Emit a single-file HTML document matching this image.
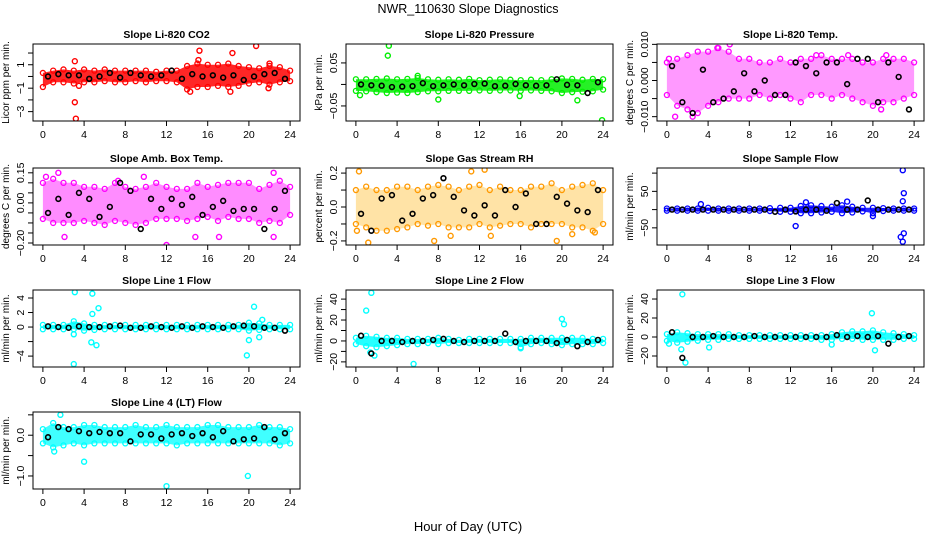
<!DOCTYPE html>
<html><head><meta charset="utf-8"><style>
html,body{margin:0;padding:0;background:#fff;}
svg{display:block;font-family:"Liberation Sans",Arial,sans-serif;}
</style></head><body>
<svg id="chart" width="936" height="540" viewBox="0 0 936 540">
<rect width="936" height="540" fill="#fff"/>
<text x="468" y="13" text-anchor="middle" font-size="12.5">NWR_110630  Slope Diagnostics</text>
<text x="468" y="531" text-anchor="middle" font-size="13">Hour of Day (UTC)</text>
</svg>
<script>
// ---- shared categories ----
const hours = [0,1,2,3,4,5,6,7,8,9,10,11,12,13,14,15,16,17,18,19,20,21,22,23,24];
const blackHours = [0.5,1.5,2.5,3.5,4.5,5.5,6.5,7.5,8.5,9.5,10.5,11.5,12.5,13.5,14.5,15.5,16.5,17.5,18.5,19.5,20.5,21.5,22.5,23.5];
const xTicks = [0,4,8,12,16,20,24];

// ---- P1 Li-820 CO2 ----
const p1Hi = [0.3,0.5,0.6,0.5,0.6,0.5,0.6,0.5,0.5,0.5,0.5,0.4,0.5,0.5,0.9,1.1,1.0,1.0,1.1,0.9,0.8,0.7,0.9,0.8,0.5];
const p1Lo = [-0.9,-0.5,-0.5,-0.6,-0.5,-0.5,-0.4,-0.5,-0.5,-0.4,-0.5,-0.4,-0.4,-0.5,-1.1,-0.9,-0.9,-0.8,-0.9,-0.8,-0.6,-0.5,-0.7,-0.5,-0.4];
const p1Black = [0.0,0.2,0.1,0.1,-0.2,0.0,0.3,-0.1,0.3,0.1,0.0,0.1,0.5,-0.2,0.2,0.0,0.1,-0.1,0.1,-0.3,0.0,0.2,0.3,-0.2];
const p1OutX = [3.1,3.1,3.2,3.5,14.3,15.2,15.1,18.2,18.4,20.7,21.9,22.0];
const p1OutY = [1.3,-2.2,-3.6,-0.8,-1.3,2.2,1.4,-1.3,2.0,2.6,-1.0,1.1];
const p1Ticks = [2,1,0,-1,-2,-3];
const p1Labels = ["","1","","-1","","-3"];

// ---- P2 Li-820 Pressure ----
const p2Hi = [0.012,0.012,0.013,0.014,0.012,0.013,0.015,0.012,0.011,0.012,0.011,0.013,0.010,0.011,0.012,0.011,0.010,0.011,0.010,0.012,0.014,0.013,0.011,0.013,0.012];
const p2Lo = [-0.015,-0.016,-0.018,-0.020,-0.019,-0.020,-0.018,-0.016,-0.016,-0.015,-0.015,-0.015,-0.014,-0.015,-0.014,-0.014,-0.015,-0.014,-0.015,-0.016,-0.020,-0.018,-0.017,-0.016,-0.012];
const p2Black = [0.000,-0.002,-0.003,-0.006,-0.005,-0.004,0.003,-0.004,-0.002,0.000,-0.002,0.001,0.002,-0.004,-0.003,0.001,-0.002,-0.003,-0.002,0.012,-0.001,-0.002,-0.020,0.005];
const p2OutX = [3.2,3.1,0.4,8.0,15.9,21.5,23.9,6.0];
const p2OutY = [0.09,0.067,-0.025,-0.035,-0.027,-0.037,-0.083,0.02];
const p2Ticks = [0.05,0,-0.05];
const p2Labels = ["0.05","","-0.05"];

// ---- P3 Li-820 Temp ----
const p3Hi = [0.005,0.006,0.007,0.008,0.008,0.009,0.008,0.006,0.006,0.005,0.005,0.006,0.005,0.006,0.006,0.007,0.006,0.006,0.006,0.005,0.005,0.006,0.006,0.006,0.005];
const p3Lo = [-0.004,-0.007,-0.008,-0.009,-0.007,-0.006,-0.005,-0.005,-0.005,-0.004,-0.005,-0.004,-0.005,-0.006,-0.004,-0.004,-0.005,-0.004,-0.005,-0.006,-0.007,-0.006,-0.006,-0.005,-0.004];
const p3Black = [0.004,-0.006,-0.009,0.003,-0.006,-0.005,-0.003,0.002,-0.003,0.000,-0.004,-0.004,0.005,0.004,0.002,0.005,0.005,-0.001,0.006,0.006,-0.006,0.005,0.001,-0.008];
const p3OutX = [0.2,0.8,2.5,4.9,6.1,14.5,17.6,21.3,20.8];
const p3OutY = [0.006,-0.010,-0.010,0.009,0.010,0.007,0.007,0.007,-0.008];
const p3Ticks = [0.010,0.005,0,-0.005,-0.010];
const p3Labels = ["0.010","","0.000","","-0.010"];

// ---- P4 Amb Box Temp ----
const p4Hi = [0.10,0.12,0.10,0.10,0.08,0.08,0.07,0.10,0.08,0.07,0.08,0.10,0.08,0.07,0.07,0.10,0.08,0.09,0.10,0.10,0.10,0.07,0.09,0.11,0.08];
const p4Lo = [-0.08,-0.10,-0.10,-0.10,-0.09,-0.10,-0.11,-0.09,-0.10,-0.11,-0.10,-0.08,-0.08,-0.08,-0.09,-0.08,-0.07,-0.09,-0.07,-0.08,-0.08,-0.10,-0.09,-0.10,-0.06];
const p4Black = [-0.05,0.02,-0.06,0.05,0.02,-0.07,-0.02,0.10,0.06,-0.13,0.02,-0.03,0.02,-0.01,0.03,-0.06,-0.02,0.01,-0.04,-0.03,-0.03,-0.13,-0.03,0.06];
const p4OutX = [0.3,1.5,2.1,7.3,12.0,14.8,17.1,22.4,22.4,9.8];
const p4OutY = [0.13,0.15,-0.17,0.11,-0.21,-0.17,-0.17,-0.17,0.15,0.13];
const p4Ticks = [0.15,0.10,0.05,0,-0.05,-0.10,-0.15,-0.20];
const p4Labels = ["0.15","","","0.00","","","","-0.20"];

// ---- P5 Gas Stream RH ----
const p5Hi = [0.10,0.12,0.10,0.10,0.12,0.12,0.10,0.12,0.13,0.12,0.10,0.12,0.13,0.10,0.12,0.10,0.10,0.12,0.12,0.14,0.10,0.12,0.13,0.14,0.10];
const p5Lo = [-0.10,-0.12,-0.14,-0.14,-0.13,-0.12,-0.10,-0.11,-0.10,-0.12,-0.12,-0.12,-0.10,-0.12,-0.11,-0.10,-0.10,-0.12,-0.10,-0.10,-0.10,-0.12,-0.12,-0.14,-0.10];
const p5Black = [-0.04,-0.14,0.05,0.07,-0.08,-0.04,0.05,0.07,0.17,0.06,-0.02,-0.05,0.01,-0.05,0.10,0.00,0.08,-0.10,-0.10,0.06,0.02,-0.02,-0.03,0.10];
const p5OutX = [0.3,0.1,1.2,7.6,9.2,11.2,12.5,13.1,19.5,21.0,23.2];
const p5OutY = [0.21,-0.14,-0.21,-0.20,-0.17,0.21,0.22,-0.17,-0.20,-0.16,-0.15];
const p5Ticks = [0.2,0.1,0,-0.1,-0.2];
const p5Labels = ["0.2","","0.0","","-0.2"];

// ---- P6 Sample Flow ----
const p6Hi = [3,3,3,3,5,3,3,3,3,3,4,5,5,10,12,10,8,12,8,5,5,4,3,3,3];
const p6Lo = [-3,-3,-3,-3,-3,-3,-3,-3,-3,-3,-4,-6,-6,-10,-10,-8,-6,-10,-8,-5,-10,-4,-3,-3,-3];
const p6Black = [0,0,0,0,0,0,0,0,0,0,-6,0,-5,0,0,-3,18,0,0,25,0,0,0,0];
const p6OutX = [3.3,22.9,23.0,22.9,23.0,22.9,13.5,17.5,20.0,12.5,22.7];
const p6OutY = [15,108,45,23,-65,-88,20,22,-18,-45,-75];
const p6Ticks = [100,50,0,-50];
const p6Labels = ["","50","","-50"];

// ---- P7 Line 1 Flow ----
const p7Hi = [0.3,0.3,0.3,0.8,0.5,0.3,0.3,0.3,0.3,0.3,0.3,0.3,0.3,0.3,0.3,0.3,0.3,0.3,0.3,0.3,0.6,0.5,0.3,0.3,0.3];
const p7Lo = [-0.3,-0.3,-0.3,-0.3,-0.5,-0.4,-0.3,-0.3,-0.3,-0.3,-0.3,-0.3,-0.3,-0.3,-0.3,-0.3,-0.3,-0.3,-0.3,-0.3,-0.5,-0.4,-0.3,-0.3,-0.3];
const p7Black = [0.1,0.0,-0.1,0.1,0.0,0.0,0.1,0.2,-0.1,-0.1,0.1,0.0,-0.1,0.1,-0.1,0.1,0.0,-0.1,0.1,0.2,0.1,-0.1,-0.1,-0.5];
const p7OutX = [3.1,4.8,3.0,3.0,4.7,5.2,5.4,4.8,20.5,20.0,19.8,21.0,21.3];
const p7OutY = [4.8,4.6,-5.1,-1.0,-2.1,-2.5,2.6,1.8,2.8,-1.8,-3.9,-1.4,1.0];
const p7Ticks = [4,2,0,-2,-4];
const p7Labels = ["4","2","0","","-4"];

// ---- P8 Line 2 Flow ----
const p8Hi = [3,5,4,3,3,2,2,2,3,2,1,2,2,2,2,2,2,3,3,3,3,3,3,2,2];
const p8Lo = [-3,-5,-6,-5,-4,-3,-3,-2,-3,-2,-2,-2,-2,-2,-2,-2,-6,-3,-2,-3,-4,-3,-3,-3,-2];
const p8Black = [5,-12,0,0,-1,0,0,1,2,0,-1,0,0,0,7,-1,0,0,0,-2,1,-5,-1,1];
const p8OutX = [1.5,1.0,1.8,1.4,5.6,20.0,20.2,16.0];
const p8OutY = [46,29,-14,-11,-22,21,16,-7];
const p8Ticks = [40,30,20,10,0,-10,-20];
const p8Labels = ["40","","20","","0","","-20"];

// ---- P9 Line 3 Flow ----
const p9Hi = [3,5,4,3,3,3,3,2,2,2,2,2,2,2,2,2,3,5,6,6,7,5,4,3,2];
const p9Lo = [-4,-6,-5,-4,-3,-3,-2,-2,-2,-2,-2,-2,-2,-2,-2,-3,-3,-2,-2,-3,-3,-3,-3,-2,-2];
const p9Black = [5,-22,0,0,1,0,0,0,1,0,0,0,0,0,0,0,2,0,1,0,1,-7,0,1];
const p9OutX = [1.5,1.8,1.4,4.1,0.2,19.9,20.2,16.0];
const p9OutY = [45,-27,-13,-11,-7,25,-14,-8];
const p9Ticks = [40,20,0,-20];
const p9Labels = ["40","20","0","-20"];

// ---- P10 Line 4 (LT) Flow ----
const p10Hi = [0.15,0.3,0.2,0.2,0.25,0.25,0.2,0.2,0.2,0.25,0.2,0.2,0.25,0.2,0.2,0.2,0.25,0.25,0.2,0.2,0.2,0.25,0.2,0.2,0.15];
const p10Lo = [-0.2,-0.3,-0.25,-0.2,-0.25,-0.2,-0.2,-0.2,-0.2,-0.2,-0.2,-0.2,-0.2,-0.25,-0.2,-0.2,-0.2,-0.2,-0.2,-0.2,-0.2,-0.2,-0.2,-0.25,-0.2];
const p10Black = [-0.05,0.2,0.15,0.1,0.05,0.08,0.05,0.05,-0.15,0.02,0.02,-0.08,0.02,0.05,-0.02,0.05,-0.05,0.1,-0.15,-0.1,-0.08,0.2,-0.1,0.05];
const p10OutX = [4.0,12.0,19.9,1.7,1.1];
const p10OutY = [-0.65,-1.25,-1.0,0.5,-0.4];
const p10Ticks = [0.5,0,-0.5,-1.0];
const p10Labels = ["","0.0","","-1.0"];

const panels = [
 {id:'co2', title:'Slope Li-820 CO2', yt:'Licor ppm per min.', col:0,row:0, ymin:-3.8, ymax:2.77, color:'#ff0000', fill:'#ff0000', op:0.85, hi:p1Hi, lo:p1Lo, blk:p1Black, ox:p1OutX, oy:p1OutY, ticks:p1Ticks, labels:p1Labels},
 {id:'pressure', title:'Slope Li-820 Pressure', yt:'kPa per min.', col:1,row:0, ymin:-0.085, ymax:0.094, color:'#00ee00', fill:'#00ee00', op:0.85, hi:p2Hi, lo:p2Lo, blk:p2Black, ox:p2OutX, oy:p2OutY, ticks:p2Ticks, labels:p2Labels},
 {id:'li820-temp', title:'Slope Li-820 Temp.', yt:'degrees C per min.', col:2,row:0, ymin:-0.0112, ymax:0.0101, color:'#ff00ff', fill:'#ff00ff', op:0.4, hi:p3Hi, lo:p3Lo, blk:p3Black, ox:p3OutX, oy:p3OutY, ticks:p3Ticks, labels:p3Labels},
 {id:'amb-box-temp', title:'Slope Amb. Box Temp.', yt:'degrees C per min.', col:0,row:1, ymin:-0.21, ymax:0.174, color:'#ff00ff', fill:'#ff00ff', op:0.45, hi:p4Hi, lo:p4Lo, blk:p4Black, ox:p4OutX, oy:p4OutY, ticks:p4Ticks, labels:p4Labels},
 {id:'gas-rh', title:'Slope Gas Stream RH', yt:'percent per min.', col:1,row:1, ymin:-0.224, ymax:0.23, color:'#ff9900', fill:'#ffb000', op:0.35, hi:p5Hi, lo:p5Lo, blk:p5Black, ox:p5OutX, oy:p5OutY, ticks:p5Ticks, labels:p5Labels},
 {id:'sample-flow', title:'Slope Sample Flow', yt:'ml/min per min.', col:2,row:1, ymin:-97, ymax:114, color:'#0000ff', fill:'#0000ff', op:0.85, hi:p6Hi, lo:p6Lo, blk:p6Black, ox:p6OutX, oy:p6OutY, ticks:p6Ticks, labels:p6Labels},
 {id:'line1-flow', title:'Slope Line 1 Flow', yt:'ml/min per min.', col:0,row:2, ymin:-5.5, ymax:5.1, color:'#00ffff', fill:'#00ffff', op:0.85, hi:p7Hi, lo:p7Lo, blk:p7Black, ox:p7OutX, oy:p7OutY, ticks:p7Ticks, labels:p7Labels},
 {id:'line2-flow', title:'Slope Line 2 Flow', yt:'ml/min per min.', col:1,row:2, ymin:-24.9, ymax:48.7, color:'#00ffff', fill:'#00ffff', op:0.85, hi:p8Hi, lo:p8Lo, blk:p8Black, ox:p8OutX, oy:p8OutY, ticks:p8Ticks, labels:p8Labels},
 {id:'line3-flow', title:'Slope Line 3 Flow', yt:'ml/min per min.', col:2,row:2, ymin:-31.6, ymax:49.5, color:'#00ffff', fill:'#00ffff', op:0.85, hi:p9Hi, lo:p9Lo, blk:p9Black, ox:p9OutX, oy:p9OutY, ticks:p9Ticks, labels:p9Labels},
 {id:'line4-flow', title:'Slope Line 4 (LT) Flow', yt:'ml/min per min.', col:0,row:3, ymin:-1.32, ymax:0.57, color:'#00ffff', fill:'#00ffff', op:0.75, hi:p10Hi, lo:p10Lo, blk:p10Black, ox:p10OutX, oy:p10OutY, ticks:p10Ticks, labels:p10Labels}
];

const colLeft = [33, 346, 657];
const rowTop = [44, 168, 290, 412];
const BW = 267, BH = 77;
const NS = 'http://www.w3.org/2000/svg';
const svg = document.getElementById('chart');
function mk(tag, attrs, parent){ const e=document.createElementNS(NS,tag); for(const k in attrs) e.setAttribute(k,attrs[k]); parent.appendChild(e); return e; }

panels.forEach(p=>{
  const L = colLeft[p.col], T = rowTop[p.row];
  const xs = h => L + (h + 0.96) / 25.92 * BW;
  const ys = v => T + (p.ymax - v) / (p.ymax - p.ymin) * BH;
  const g = mk('g', {}, svg);
  
  

  const t = mk('text', {x: L + BW/2, y: T - 6, 'text-anchor':'middle', 'font-size':'10.5', 'font-weight':'bold'}, g);
  t.textContent = p.title;
  
  

  const cp = mk('clipPath', {id:'clip-' + p.id}, g);
  mk('rect', {x:L, y:T, width:BW, height:BH}, cp);
  const plot = mk('g', {'clip-path':'url(#clip-' + p.id + ')'}, g);
  
  

  let pts = hours.map((h,i)=>xs(h).toFixed(1)+','+ys(p.hi[i]).toFixed(1));
  pts = pts.concat(hours.slice().reverse().map((h,j)=>{const i=hours.length-1-j; return xs(h).toFixed(1)+','+ys(p.lo[i]).toFixed(1);}));
  const band = mk('polygon', {points: pts.join(' '), fill: p.fill, 'fill-opacity': p.op, stroke:'none'}, plot);
  
  

  hours.forEach((h,i)=>{
    [p.hi[i], p.lo[i]].forEach(v=>{
      const c = mk('circle', {cx: xs(h), cy: ys(v), r: 2.5, fill:'none', stroke: p.color, 'stroke-width': 1.3}, plot);
      
      
    });
  });
  p.ox.forEach((x,i)=>{
    const c = mk('circle', {cx: xs(x), cy: ys(p.oy[i]), r: 2.5, fill:'none', stroke: p.color, 'stroke-width': 1.4}, plot);
    
    
  });
  blackHours.forEach((h,i)=>{
    const c = mk('circle', {cx: xs(h), cy: ys(p.blk[i]), r: 2.4, fill:'none', stroke:'#000', 'stroke-width': 1.6}, plot);
    
    
  });

  const box = mk('rect', {x:L, y:T, width:BW, height:BH, fill:'none', stroke:'#000', 'stroke-width':1}, g);
  
  

  xTicks.forEach(h=>{
    const tk = mk('line', {x1: xs(h), x2: xs(h), y1: T+BH, y2: T+BH+5, stroke:'#000'}, g);
    
    
    const tl = mk('text', {x: xs(h), y: T+BH+17, 'text-anchor':'middle', 'font-size':'10.5'}, g);
    tl.textContent = h;
    
    
  });
  p.ticks.forEach((v,i)=>{
    const y = ys(v);
    const tk = mk('line', {x1: L-5, x2: L, y1: y, y2: y, stroke:'#000'}, g);
    
    
    if (p.labels[i]) {
      const tl = mk('text', {x: L-9, y: y, 'text-anchor':'middle', 'font-size':'10.5', transform:'rotate(-90 ' + (L-9) + ' ' + y + ')'}, g);
      tl.textContent = p.labels[i].replace('-', '\u2212');
      
      
    }
  });
  const yt = mk('text', {x: L-24, y: T+BH/2, 'text-anchor':'middle', 'font-size':'10', transform:'rotate(-90 ' + (L-24) + ' ' + (T+BH/2) + ')'}, g);
  yt.textContent = p.yt;
  
  
});
</script>
</body></html>
